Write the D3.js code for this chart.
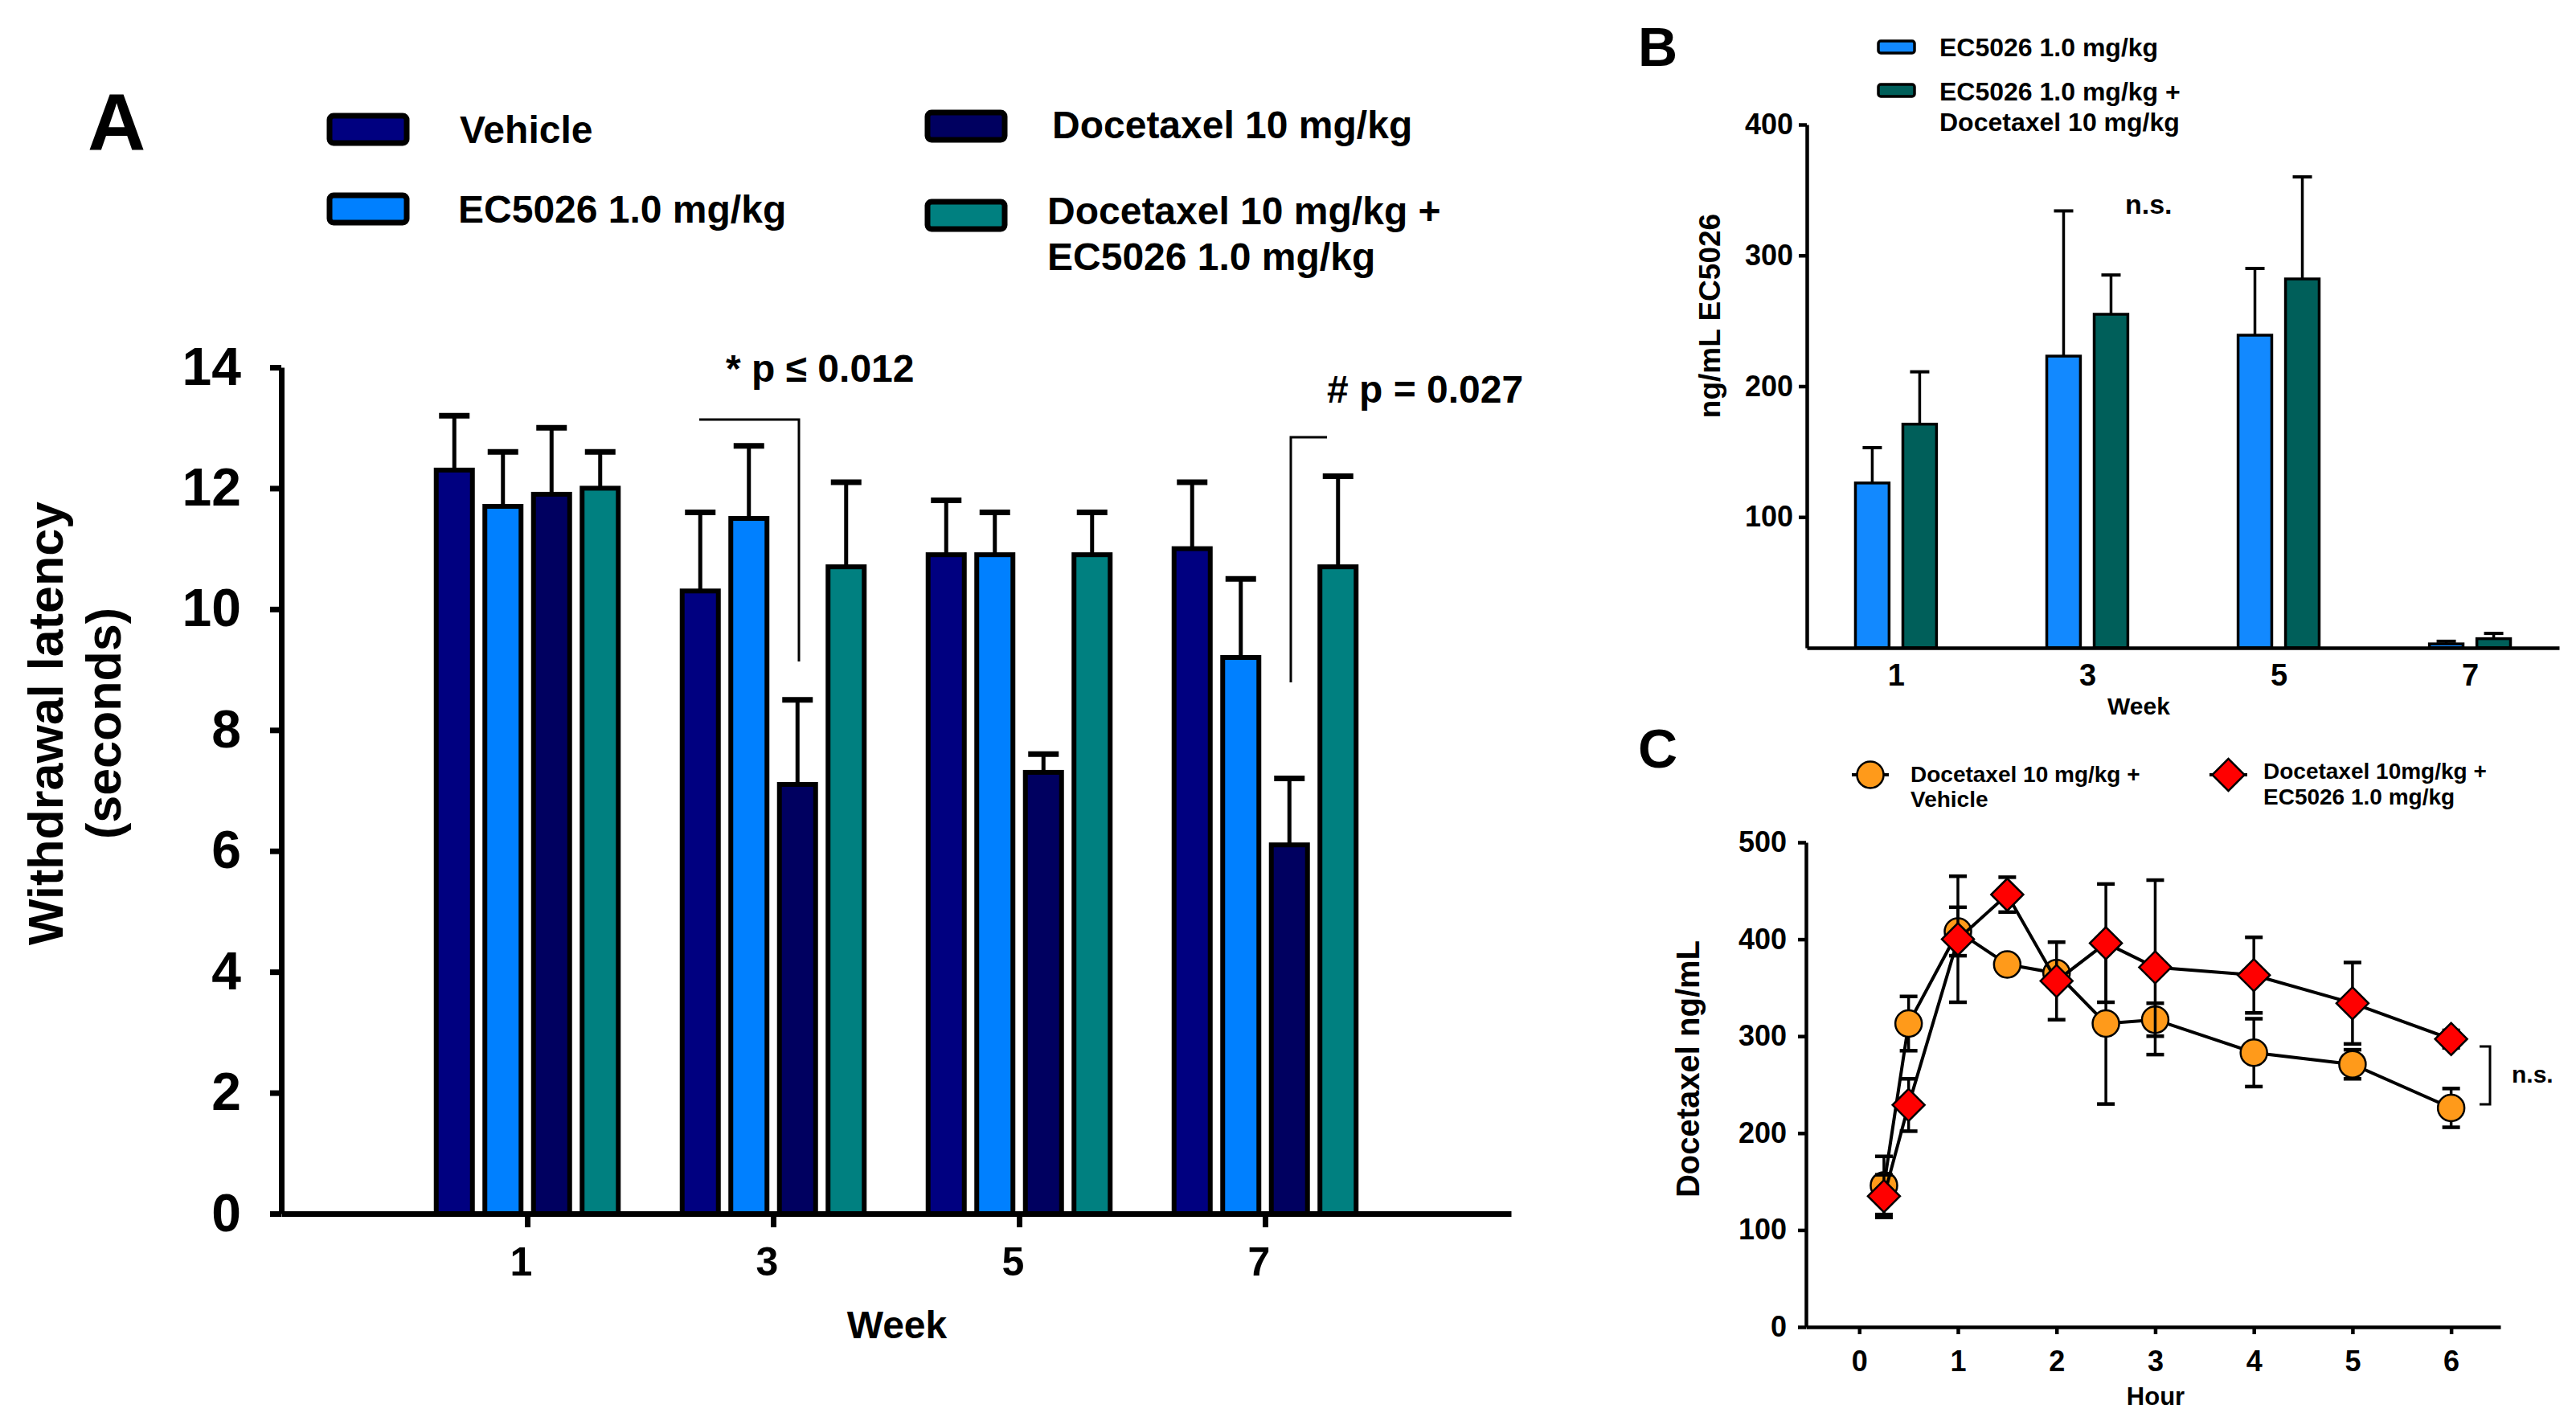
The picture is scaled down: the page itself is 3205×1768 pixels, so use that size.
<!DOCTYPE html>
<html>
<head>
<meta charset="utf-8">
<script src="https://cdn.jsdelivr.net/npm/d3@7"></script>
<style>
  html, body { margin: 0; padding: 0; background: #fff; }
  svg { display: block; }
  text { font-family: "Liberation Sans", Arial, Helvetica, sans-serif; font-weight: bold; fill: #000; }
</style>
</head>
<body>
<svg id="chart" width="3205" height="1768"></svg>
<script>
// ---------------- Panel A data ----------------
const weeksA = ['1', '3', '5', '7'];
const seriesA = ['Vehicle', 'EC5026 1.0 mg/kg', 'Docetaxel 10 mg/kg', 'Docetaxel 10 mg/kg + EC5026 1.0 mg/kg'];
const vehicleMean = [12.3, 10.3, 10.9, 11.0];
const vehicleErr  = [0.9, 1.3, 0.9, 1.1];
const ecMean      = [11.7, 11.5, 10.9, 9.2];
const ecErr       = [0.9, 1.2, 0.7, 1.3];
const doceMean    = [11.9, 7.1, 7.3, 6.1];
const doceErr     = [1.1, 1.4, 0.3, 1.1];
const comboMean   = [12.0, 10.7, 10.9, 10.7];
const comboErr    = [0.6, 1.4, 0.7, 1.5];
const yTicksA = [0, 2, 4, 6, 8, 10, 12, 14];

// ---------------- Panel B data ----------------
const weeksB = ['1', '3', '5', '7'];
const seriesB = ['EC5026 1.0 mg/kg', 'EC5026 1.0 mg/kg + Docetaxel 10 mg/kg'];
const ecBMean    = [126, 223, 239, 3];
const ecBErr     = [27, 111, 51, 2];
const comboBMean = [171, 255, 282, 7];
const comboBErr  = [40, 30, 78, 4];
const yTicksB = [100, 200, 300, 400];

// ---------------- Panel C data ----------------
const hoursC = [0.25, 0.5, 1, 1.5, 2, 2.5, 3, 4, 5, 6];
const vehCMean = [146, 313, 408, 374, 365, 313, 317, 283, 271, 226];
const vehCErr  = [30, 28, 25, 8, 8, 83, 17, 35, 15, 20];
const ecCMean  = [135, 229, 400, 446, 357, 396, 371, 363, 334, 297];
const ecCErr   = [22, 27, 65, 18, 40, 61, 90, 39, 42, 9];
const xTicksC = [0, 1, 2, 3, 4, 5, 6];
const yTicksC = [0, 100, 200, 300, 400, 500];

const colorsA = ['#000080', '#0080FF', '#000060', '#008080'];
const colorsB = ['#1289FF', '#005F5A'];
const colorVeh = '#FF9A1A';
const colorEc = '#FF0000';

const svg = d3.select('#chart');
svg.append('rect').attr('width', 3205).attr('height', 1768).attr('fill', '#fff');

// ======================= PANEL A =======================
const gA = svg.append('g');
const xA = d3.scalePoint(weeksA, [350, 1880]).padding(1);
const yA = d3.scaleLinear([0, 14], [1510, 457]);
const subA = d3.scaleBand(seriesA, [-121, 121]).paddingInner(0.256).paddingOuter(0.128);

const dataA = [
  {name: seriesA[0], mean: vehicleMean, err: vehicleErr, color: colorsA[0]},
  {name: seriesA[1], mean: ecMean, err: ecErr, color: colorsA[1]},
  {name: seriesA[2], mean: doceMean, err: doceErr, color: colorsA[2]},
  {name: seriesA[3], mean: comboMean, err: comboErr, color: colorsA[3]},
];
const barsA = [];
dataA.forEach(s => weeksA.forEach((w, i) => barsA.push({s: s.name, w, v: s.mean[i], e: s.err[i], color: s.color})));

// error bars (upwards only)
const errA = gA.append('g');
errA.selectAll('line.v').data(barsA).join('line')
  .attr('x1', d => xA(d.w) + subA(d.s) + subA.bandwidth() / 2)
  .attr('x2', d => xA(d.w) + subA(d.s) + subA.bandwidth() / 2)
  .attr('y1', d => yA(d.v)).attr('y2', d => yA(d.v + d.e))
  .attr('stroke', '#000').attr('stroke-width', 5);
errA.selectAll('line.c').data(barsA).join('line')
  .attr('x1', d => xA(d.w) + subA(d.s) + subA.bandwidth() / 2 - 19)
  .attr('x2', d => xA(d.w) + subA(d.s) + subA.bandwidth() / 2 + 19)
  .attr('y1', d => yA(d.v + d.e)).attr('y2', d => yA(d.v + d.e))
  .attr('stroke', '#000').attr('stroke-width', 7);

gA.append('g').selectAll('rect').data(barsA).join('rect')
  .attr('x', d => xA(d.w) + subA(d.s))
  .attr('width', subA.bandwidth())
  .attr('y', d => yA(d.v))
  .attr('height', d => yA(0) - yA(d.v))
  .attr('fill', d => d.color)
  .attr('stroke', '#000').attr('stroke-width', 6);

// axes A
const axLeftA = gA.append('g').attr('transform', `translate(350,0)`)
  .call(d3.axisLeft(yA).tickValues(yTicksA).tickFormat(d3.format('d')).tickSize(14).tickSizeOuter(0).tickPadding(36));
axLeftA.select('.domain').attr('stroke-width', 7);
axLeftA.selectAll('.tick line').attr('stroke-width', 7);
axLeftA.selectAll('text').attr('font-size', 66);

const axBotA = gA.append('g').attr('transform', `translate(0,1510)`)
  .call(d3.axisBottom(xA).tickSize(17).tickSizeOuter(0).tickPadding(24));
axBotA.select('.domain').attr('stroke-width', 7);
axBotA.selectAll('.tick line').attr('stroke-width', 7);
axBotA.selectAll('text').attr('font-size', 50).attr('dx', -8);

gA.append('text').attr('x', 1116).attr('y', 1665).attr('text-anchor', 'middle').attr('font-size', 48).text('Week');
const titA = gA.append('text').attr('transform', 'translate(0,900) rotate(-90)').attr('text-anchor', 'middle').attr('font-size', 61);
titA.append('tspan').attr('x', 0).attr('y', 78).text('Withdrawal latency');
titA.append('tspan').attr('x', 0).attr('y', 150).text('(seconds)');

gA.append('text').attr('x', 109).attr('y', 187).attr('font-size', 100).text('A');

// legend A
const legA = [
  {name: 'Vehicle', lines: ['Vehicle'], color: colorsA[0], sx: 410, sy: 144, tx: 572, ty: [178]},
  {name: 'EC', lines: ['EC5026 1.0 mg/kg'], color: colorsA[1], sx: 410, sy: 243, tx: 570, ty: [277]},
  {name: 'Doce', lines: ['Docetaxel 10 mg/kg'], color: colorsA[2], sx: 1154, sy: 140, tx: 1309, ty: [172]},
  {name: 'Combo', lines: ['Docetaxel 10 mg/kg +', 'EC5026 1.0 mg/kg'], color: colorsA[3], sx: 1154, sy: 251, tx: 1303, ty: [279, 336]},
];
legA.forEach(l => {
  gA.append('rect').attr('x', l.sx).attr('y', l.sy).attr('width', 96).attr('height', 34).attr('rx', 5)
    .attr('fill', l.color).attr('stroke', '#000').attr('stroke-width', 7);
  l.lines.forEach((t, i) => gA.append('text').attr('x', l.tx).attr('y', l.ty[i]).attr('font-size', 48).text(t));
});

// significance annotations A
gA.append('text').attr('x', 903).attr('y', 475).attr('font-size', 48).text('* p \u2264 0.012');
gA.append('path').attr('d', d3.line()([[870, 522], [994, 522], [994, 823]])).attr('fill', 'none').attr('stroke', '#000').attr('stroke-width', 3);
gA.append('text').attr('x', 1651).attr('y', 501).attr('font-size', 48).text('# p = 0.027');
gA.append('path').attr('d', d3.line()([[1606, 849], [1606, 544], [1651, 544]])).attr('fill', 'none').attr('stroke', '#000').attr('stroke-width', 3);

// ======================= PANEL B =======================
const gB = svg.append('g');
const xB = d3.scalePoint(weeksB, [2248, 3184]).padding(0.466);
const yB = d3.scaleLinear([0, 400], [806, 155]);
const subB = d3.scaleBand(seriesB, [-59, 59]).paddingInner(0.29).paddingOuter(0.145);
const dataB = [
  {name: seriesB[0], mean: ecBMean, err: ecBErr, color: colorsB[0]},
  {name: seriesB[1], mean: comboBMean, err: comboBErr, color: colorsB[1]},
];
const barsB = [];
dataB.forEach(s => weeksB.forEach((w, i) => barsB.push({s: s.name, w, v: s.mean[i], e: s.err[i], color: s.color})));

const errB = gB.append('g');
errB.selectAll('line.v').data(barsB).join('line')
  .attr('x1', d => xB(d.w) + subB(d.s) + subB.bandwidth() / 2)
  .attr('x2', d => xB(d.w) + subB(d.s) + subB.bandwidth() / 2)
  .attr('y1', d => yB(d.v)).attr('y2', d => yB(d.v + d.e))
  .attr('stroke', '#000').attr('stroke-width', 3.5);
errB.selectAll('line.c').data(barsB).join('line')
  .attr('x1', d => xB(d.w) + subB(d.s) + subB.bandwidth() / 2 - 12)
  .attr('x2', d => xB(d.w) + subB(d.s) + subB.bandwidth() / 2 + 12)
  .attr('y1', d => yB(d.v + d.e)).attr('y2', d => yB(d.v + d.e))
  .attr('stroke', '#000').attr('stroke-width', 4);
gB.append('g').selectAll('rect').data(barsB).join('rect')
  .attr('x', d => xB(d.w) + subB(d.s))
  .attr('width', subB.bandwidth())
  .attr('y', d => yB(d.v))
  .attr('height', d => yB(0) - yB(d.v))
  .attr('fill', d => d.color)
  .attr('stroke', '#000').attr('stroke-width', 3.5);

const axLeftB = gB.append('g').attr('transform', 'translate(2248,0)')
  .call(d3.axisLeft(yB).tickValues(yTicksB).tickSize(10).tickSizeOuter(0).tickPadding(7));
axLeftB.select('.domain').attr('stroke-width', 4.5);
axLeftB.selectAll('.tick line').attr('stroke-width', 4.5);
axLeftB.selectAll('text').attr('font-size', 36);
const axBotB = gB.append('g').attr('transform', 'translate(0,806)')
  .call(d3.axisBottom(xB).tickSize(0).tickSizeOuter(0).tickPadding(20));
axBotB.select('.domain').attr('stroke-width', 4.5);
axBotB.selectAll('text').attr('font-size', 38);

gB.append('text').attr('x', 2661).attr('y', 889).attr('text-anchor', 'middle').attr('font-size', 30).text('Week');
gB.append('text').attr('transform', 'translate(2140,393) rotate(-90)').attr('text-anchor', 'middle').attr('font-size', 37).text('ng/mL EC5026');
gB.append('text').attr('x', 2038).attr('y', 82).attr('font-size', 68).text('B');
gB.append('text').attr('x', 2644).attr('y', 266).attr('font-size', 34).text('n.s.');

const legB = [
  {color: colorsB[0], sy: 51, lines: ['EC5026 1.0 mg/kg'], ty: [70]},
  {color: colorsB[1], sy: 105, lines: ['EC5026 1.0 mg/kg +', 'Docetaxel 10 mg/kg'], ty: [125, 163]},
];
legB.forEach(l => {
  gB.append('rect').attr('x', 2337).attr('y', l.sy).attr('width', 45).attr('height', 15).attr('rx', 3)
    .attr('fill', l.color).attr('stroke', '#000').attr('stroke-width', 3.5);
  l.lines.forEach((t, i) => gB.append('text').attr('x', 2413).attr('y', l.ty[i]).attr('font-size', 32).text(t));
});

// ======================= PANEL C =======================
const gC = svg.append('g');
const xC = d3.scaleLinear([-0.54, 6.5], [2247, 3111]);
const yC = d3.scaleLinear([0, 500], [1651, 1048]);

const axLeftC = gC.append('g').attr('transform', 'translate(2247,0)')
  .call(d3.axisLeft(yC).tickValues(yTicksC).tickSize(10).tickSizeOuter(0).tickPadding(14));
axLeftC.select('.domain').attr('stroke-width', 4.5);
axLeftC.selectAll('.tick line').attr('stroke-width', 4.5);
axLeftC.selectAll('text').attr('font-size', 36);
const axBotC = gC.append('g').attr('transform', 'translate(0,1651)')
  .call(d3.axisBottom(xC).tickValues(xTicksC).tickFormat(d3.format('d')).tickSize(9).tickSizeOuter(0).tickPadding(20));
axBotC.select('.domain').attr('stroke-width', 4.5);
axBotC.selectAll('.tick line').attr('stroke-width', 4.5);
axBotC.selectAll('text').attr('font-size', 36);

gC.append('text').attr('x', 2682).attr('y', 1748).attr('text-anchor', 'middle').attr('font-size', 31).text('Hour');
gC.append('text').attr('transform', 'translate(2114,1330) rotate(-90)').attr('text-anchor', 'middle').attr('font-size', 40).text('Docetaxel ng/mL');
gC.append('text').attr('x', 2038).attr('y', 955).attr('font-size', 68).text('C');

const diamond = d3.symbol(d3.symbolSquare, 800);
const circleSym = d3.symbol(d3.symbolCircle, Math.PI * 16.5 * 16.5);

const seriesC = [
  {name: 'Docetaxel 10 mg/kg + Vehicle', mean: vehCMean, err: vehCErr, color: colorVeh, sym: circleSym, rot: 0},
  {name: 'Docetaxel 10mg/kg + EC5026 1.0 mg/kg', mean: ecCMean, err: ecCErr, color: colorEc, sym: diamond, rot: 45},
];
seriesC.forEach(s => {
  const pts = hoursC.map((h, i) => ({h, v: s.mean[i], e: s.err[i]}));
  const g = gC.append('g');
  g.selectAll('line.v').data(pts).join('line')
    .attr('x1', d => xC(d.h)).attr('x2', d => xC(d.h))
    .attr('y1', d => yC(d.v - d.e)).attr('y2', d => yC(d.v + d.e))
    .attr('stroke', '#000').attr('stroke-width', 3.5);
  [1, -1].forEach(sgn => {
    g.selectAll('line.c' + sgn).data(pts).join('line')
      .attr('x1', d => xC(d.h) - 11).attr('x2', d => xC(d.h) + 11)
      .attr('y1', d => yC(d.v + sgn * d.e)).attr('y2', d => yC(d.v + sgn * d.e))
      .attr('stroke', '#000').attr('stroke-width', 4.5);
  });
  g.append('path').datum(pts)
    .attr('d', d3.line().x(d => xC(d.h)).y(d => yC(d.v)))
    .attr('fill', 'none').attr('stroke', '#000').attr('stroke-width', 4);
  g.selectAll('path.m').data(pts).join('path')
    .attr('d', s.sym)
    .attr('transform', d => `translate(${xC(d.h)},${yC(d.v)}) rotate(${s.rot})`)
    .attr('fill', s.color).attr('stroke', '#000').attr('stroke-width', 2.5);
});

// n.s. bracket C
gC.append('path').attr('d', d3.line()([[3085, 1302], [3098, 1302], [3098, 1374], [3085, 1374]]))
  .attr('fill', 'none').attr('stroke', '#000').attr('stroke-width', 3);
gC.append('text').attr('x', 3125).attr('y', 1347).attr('font-size', 30).text('n.s.');

// legend C
const legC = [
  {s: seriesC[0], x1: 2304, x2: 2350, cy: 964, tx: 2377, lines: ['Docetaxel 10 mg/kg +', 'Vehicle'], ty: [973, 1004]},
  {s: seriesC[1], x1: 2749, x2: 2796, cy: 964, tx: 2816, lines: ['Docetaxel 10mg/kg +', 'EC5026 1.0 mg/kg'], ty: [969, 1001]},
];
legC.forEach(l => {
  gC.append('line').attr('x1', l.x1).attr('x2', l.x2).attr('y1', l.cy).attr('y2', l.cy).attr('stroke', '#000').attr('stroke-width', 4);
  gC.append('path').attr('d', l.s.sym).attr('transform', `translate(${(l.x1 + l.x2) / 2},${l.cy}) rotate(${l.s.rot})`)
    .attr('fill', l.s.color).attr('stroke', '#000').attr('stroke-width', 2.5);
  l.lines.forEach((t, i) => gC.append('text').attr('x', l.tx).attr('y', l.ty[i]).attr('font-size', 28).text(t));
});
</script>
</body>
</html>
